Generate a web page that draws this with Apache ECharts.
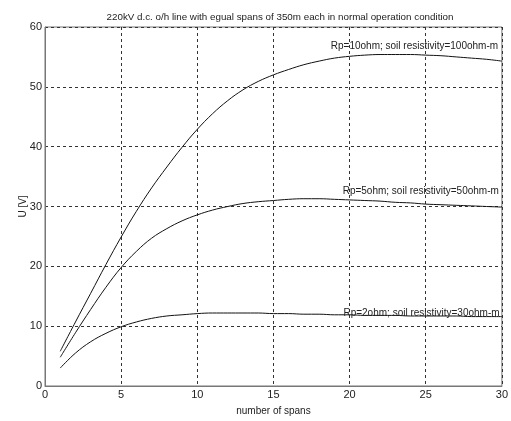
<!DOCTYPE html>
<html>
<head>
<meta charset="utf-8">
<script src="https://cdn.jsdelivr.net/npm/echarts@6/dist/echarts.min.js"></script>
<style>
	html, body { margin: 0; padding: 0; background: #fff; }
	#chart { width: 511px; height: 421px; }
</style>
</head>
<body>
<div id="chart"></div>
<script>
	// spans 1..30
	const spans = [1,2,3,4,5,6,7,8,9,10,11,12,13,14,15,16,17,18,19,20,21,22,23,24,25,26,27,28,29,30];
	// Rp=10ohm, rho=100ohm-m
	const u10 = [5.8,10.7,15.5,20.3,24.9,29.2,33.1,36.6,39.9,42.9,45.5,47.7,49.5,50.9,52.0,52.9,53.7,54.3,54.8,55.1,55.3,55.4,55.4,55.4,55.3,55.2,55.0,54.8,54.6,54.3];
	// Rp=5ohm, rho=50ohm-m
	const u5 = [4.8,8.9,12.8,16.5,19.8,22.5,24.7,26.3,27.6,28.6,29.4,30.0,30.5,30.8,31.0,31.2,31.3,31.3,31.2,31.1,31.0,30.9,30.7,30.6,30.4,30.3,30.2,30.1,30.0,29.9];
	// Rp=2ohm, rho=30ohm-m
	const u2 = [3.0,5.5,7.4,8.8,9.9,10.7,11.3,11.7,11.9,12.1,12.2,12.2,12.2,12.2,12.1,12.1,12.0,12.0,11.9,11.9,11.8,11.8,11.8,11.7,11.7,11.7,11.7,11.6,11.6,11.6];

	const curveNames = ['Rp=10ohm; soil resistivity=100ohm-m', 'Rp=5ohm; soil resistivity=50ohm-m', 'Rp=2ohm; soil resistivity=30ohm-m'];
	// where each text note ends (x, U)
	const notePos = [[29.75, 56.8], [29.8, 32.5], [29.85, 12.2]];

	const font = 'Liberation Sans';
	const fs = 10;

	function makeSeries(name, values, note) {
		return {
			name: name,
			type: 'line',
			smooth: 0.4,
			showSymbol: false,
			silent: true,
			data: spans.map((s, i) => [s, values[i]]),
			lineStyle: { color: '#111', width: 1 },
			markPoint: {
				symbol: 'circle',
				symbolSize: 0,
				silent: true,
				label: {
					show: true,
					position: 'left',
					distance: 0,
					color: '#222',
					fontFamily: font,
					fontSize: fs,
					formatter: name
				},
				data: [{ coord: note }]
			}
		};
	}

	const chart = echarts.init(document.getElementById('chart'));
	chart.setOption({
		animation: false,
		title: {
			text: '220kV d.c. o/h line with egual spans of 350m each in normal operation condition',
			left: 275,
			textAlign: 'center',
			top: 7,
			textStyle: { fontFamily: font, fontSize: 9.8, fontWeight: 'normal', color: '#222' }
		},
		grid: {
			left: 45, right: 5, top: 27, bottom: 33,
			show: true, borderColor: '#777', borderWidth: 1
		},
		xAxis: {
			type: 'value',
			min: 0, max: 30, interval: 5,
			name: 'number of spans',
			nameLocation: 'middle',
			nameGap: 20,
			nameMoveOverlap: false,
			nameTextStyle: { fontFamily: font, fontSize: fs, color: '#222' },
			axisLine: { show: true, lineStyle: { color: '#777' } },
			axisTick: { show: false },
			axisLabel: { fontFamily: font, fontSize: fs + 1, color: '#222', margin: 3 },
			splitLine: { lineStyle: { color: '#333', type: [3, 3] } }
		},
		yAxis: {
			type: 'value',
			min: 0, max: 60, interval: 10,
			name: 'U [V]',
			nameLocation: 'middle',
			nameGap: 17,
			nameMoveOverlap: false,
			nameTextStyle: { fontFamily: font, fontSize: fs, color: '#222' },
			axisLine: { show: true, lineStyle: { color: '#777' } },
			axisTick: { show: false },
			axisLabel: { fontFamily: font, fontSize: fs + 1, color: '#222', margin: 3 },
			splitLine: { lineStyle: { color: '#333', type: [3, 3] } }
		},
		series: [
			makeSeries(curveNames[0], u10, notePos[0]),
			makeSeries(curveNames[1], u5, notePos[1]),
			makeSeries(curveNames[2], u2, notePos[2])
		]
	});
</script>
</body>
</html>
